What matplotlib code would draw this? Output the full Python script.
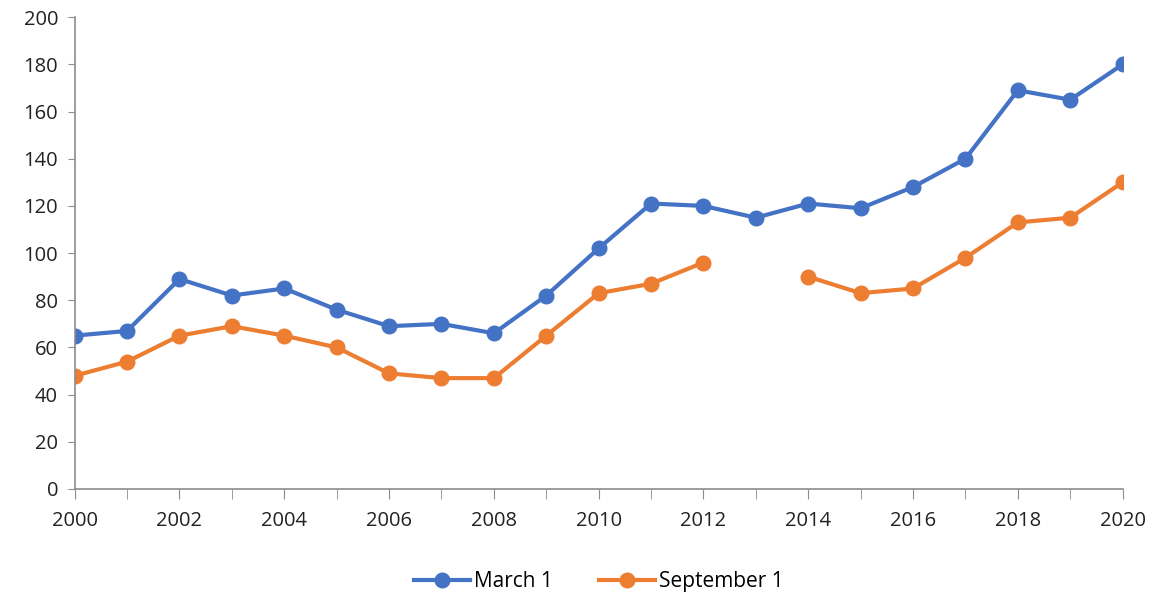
import numpy as np
import matplotlib
matplotlib.use("Agg")
import matplotlib.pyplot as plt

years = list(range(2000, 2021))
march = [65, 67, 89, 82, 85, 76, 69, 70, 66, 82, 102, 121, 120, 115, 121, 119, 128, 140, 169, 165, 180]
september = [48, 54, 65, 69, 65, 60, 49, 47, 47, 65, 83, 87, 96, np.nan, 90, 83, 85, 98, 113, 115, 130]
series_names = ["March 1", "September 1"]

plt.rcParams['font.family'] = ['Open Sans', 'DejaVu Sans']

fig = plt.figure(figsize=(11.67, 5.92), dpi=100)
ax = fig.add_axes([0.064, 0.174, 0.898, 0.797])

ax.plot(years, march, color='#4472C4', lw=3, marker='o', ms=10.5, label=series_names[0])
ax.plot(years, september, color='#ED7D31', lw=3, marker='o', ms=10.5, label=series_names[1])

ax.set_xlim(2000, 2020)
ax.set_ylim(0, 200)
ax.set_yticks(range(0, 201, 20))
ax.set_xticks(range(2000, 2021, 2))
ax.set_xticks(years, minor=True)

for s in ['top', 'right']:
    ax.spines[s].set_visible(False)
for s in ['left', 'bottom']:
    ax.spines[s].set_color('#8c8c8c')
    ax.spines[s].set_linewidth(1.2)

ax.tick_params(axis='y', length=5, color='#8c8c8c', labelsize=14.5, labelcolor='#222222', pad=7)
ax.tick_params(axis='x', which='both', length=7, color='#8c8c8c', labelsize=14.5, labelcolor='#222222', pad=9)
for lab in ax.get_xticklabels():
    lab.set_clip_on(False)

ax.legend(loc='upper center', bbox_to_anchor=(0.5, -0.135), ncol=2, frameon=False,
          fontsize=15, handlelength=2.7, columnspacing=2.2, handletextpad=0.2)

fig.savefig('out.png', dpi=100)
